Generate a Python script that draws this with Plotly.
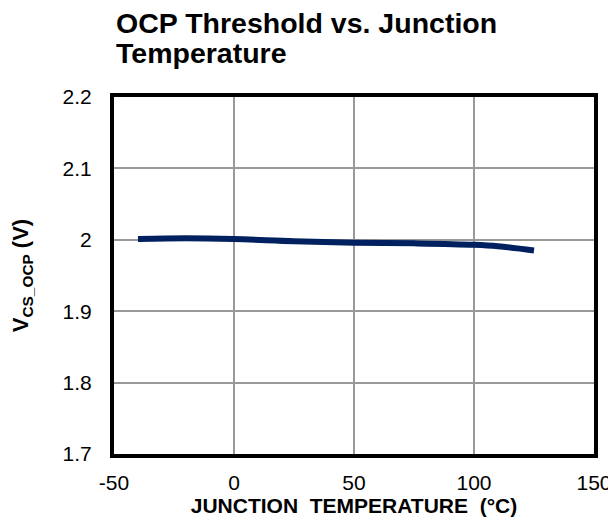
import plotly.graph_objects as go

temps = [-40, -20, 0, 25, 50, 75, 100, 110, 125]
vocp = [2.001, 2.002, 2.001, 1.998, 1.996, 1.995, 1.993, 1.991, 1.985]
x_ticks = [-50, 0, 50, 100, 150]
y_ticks = [1.7, 1.8, 1.9, 2.0, 2.1, 2.2]
y_tick_labels = ["1.7", "1.8", "1.9", "2", "2.1", "2.2"]
title_lines = ["OCP Threshold vs. Junction", "Temperature"]

font_family = "Liberation Sans, Arial, sans-serif"

fig = go.Figure()
fig.add_trace(go.Scatter(
    x=temps, y=vocp, mode="lines",
    line=dict(color="#002060", width=6, shape="spline", smoothing=1.0),
    showlegend=False,
))

# page body has an 8px default margin; the figure is offset by it
for line, ypos in zip(title_lines, [1.207, 1.123]):
    fig.add_annotation(
        text=f"<b>{line}</b>",
        xref="paper", yref="paper", x=0, y=ypos, xanchor="left", yanchor="middle",
        xshift=0, align="left", showarrow=False,
        font=dict(size=28.5, family=font_family, color="black"),
    )

fig.update_layout(
    width=608, height=521,
    margin=dict(l=106, r=22, t=89, b=75),
    paper_bgcolor="white", plot_bgcolor="white",
    font=dict(family=font_family, color="black"),
    xaxis=dict(
        range=[-50, 150], tickvals=x_ticks, ticktext=[str(v) for v in x_ticks],
        showgrid=True, gridcolor="#999999", gridwidth=1.5,
        showline=True, linecolor="black", linewidth=4, mirror=True,
        ticks="", tickfont=dict(size=21), ticklabelstandoff=7,
        zeroline=False, automargin=False,
        title=dict(text="<b>JUNCTION  TEMPERATURE  (°C)</b>", font=dict(size=21), standoff=3),
    ),
    yaxis=dict(
        range=[1.7, 2.2], tickvals=y_ticks, ticktext=y_tick_labels,
        showgrid=True, gridcolor="#999999", gridwidth=1.5,
        showline=True, linecolor="black", linewidth=4, mirror=True,
        ticks="", tickfont=dict(size=21), ticklabelstandoff=14,
        zeroline=False, automargin=False,
        title=dict(text="<b>V<sub>CS_OCP</sub> (V)</b>", font=dict(size=22), standoff=33),
    ),
)

fig.write_html("out.html")
